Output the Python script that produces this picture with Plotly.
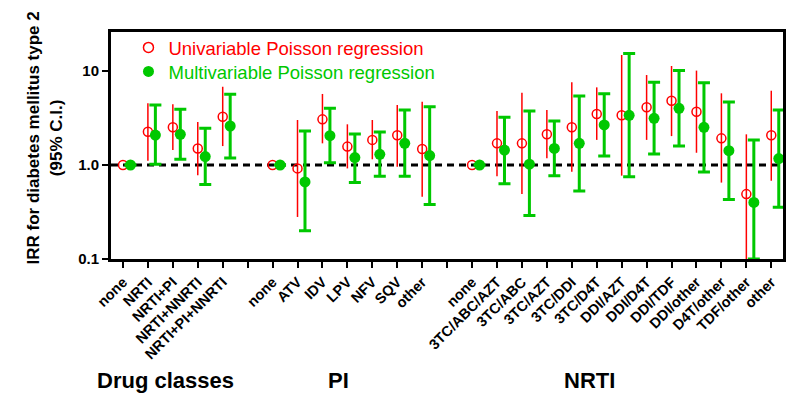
import plotly.graph_objects as go

# ---- data ----
categories = ["none", "NRTI", "NRTI+PI", "NRTI+NNRTI", "NRTI+PI+NNRTI", "",
              "none", "ATV", "IDV", "LPV", "NFV", "SQV", "other", "",
              "none", "3TC/ABC/AZT", "3TC/ABC", "3TC/AZT", "3TC/DDI", "3TC/D4T",
              "DDI/AZT", "DDI/D4T", "DDI/TDF", "DDI/other", "D4T/other", "TDF/other", "other"]

uni_irr = [1.0, 2.26, 2.52, 1.50, 3.26, None,
           1.0, 0.92, 3.06, 1.57, 1.85, 2.07, 1.48, None,
           1.0, 1.70, 1.70, 2.12, 2.52, 3.49, 3.38, 4.11, 4.83, 3.69, 1.92, 0.49, 2.07]
uni_lo = [1.0, 1.11, 1.44, 0.78, 1.59, None,
          1.0, 0.28, 1.70, 0.92, 1.15, 0.96, 0.46, None,
          1.0, 0.76, 0.49, 1.18, 0.85, 1.85, 0.77, 1.85, 2.03, 1.35, 0.65, 0.10, 0.68]
uni_hi = [1.0, 4.53, 4.42, 2.87, 6.80, None,
          1.0, 3.01, 5.70, 2.71, 3.01, 4.35, 4.72, None,
          1.0, 3.75, 5.88, 3.85, 7.60, 6.70, 14.8, 9.06, 11.3, 10.1, 5.79, 2.12, 6.17]

multi_irr = [1.0, 2.08, 2.12, 1.23, 2.60, None,
             1.0, 0.66, 2.05, 1.20, 1.30, 1.70, 1.26, None,
             1.0, 1.44, 1.02, 1.50, 1.70, 2.67, 3.38, 3.14, 4.01, 2.52, 1.42, 0.40, 1.17]
multi_lo = [1.0, 1.02, 1.15, 0.62, 1.19, None,
            1.0, 0.20, 1.06, 0.65, 0.76, 0.76, 0.38, None,
            1.0, 0.63, 0.29, 0.77, 0.53, 1.25, 0.75, 1.31, 1.59, 0.84, 0.43, 0.10, 0.355]
multi_hi = [1.0, 4.35, 3.91, 2.46, 5.65, None,
            1.0, 2.30, 4.01, 2.14, 2.24, 3.85, 4.17, None,
            1.0, 3.22, 3.75, 2.94, 5.42, 5.74, 15.4, 7.59, 10.1, 7.50, 4.68, 1.85, 3.85]

groups = ["Drug classes", "PI", "NRTI"]
group_centers = [1.7, 8.65, 18.7]

y_ticks = [0.1, 1, 10]
y_ticklabels = ["0.1", "1.0", "10"]

RED = "#FF0000"
GREEN = "#00C800"
FONT = "Liberation Sans, Arial, sans-serif"

xs = list(range(len(categories)))
x_uni = [x for x, v in zip(xs, uni_irr) if v is not None]
y_uni = [v for v in uni_irr if v is not None]
up_uni = [h - v for v, h in zip(uni_irr, uni_hi) if v is not None]
dn_uni = [v - l for v, l in zip(uni_irr, uni_lo) if v is not None]

offset = 0.3
x_mul = [x + offset for x, v in zip(xs, multi_irr) if v is not None]
y_mul = [v for v in multi_irr if v is not None]
up_mul = [h - v for v, h in zip(multi_irr, multi_hi) if v is not None]
dn_mul = [v - l for v, l in zip(multi_irr, multi_lo) if v is not None]

fig = go.Figure()
fig.add_trace(go.Scatter(
    x=x_uni, y=y_uni, mode="markers", showlegend=False,
    marker=dict(symbol="circle-open", size=9, color=RED, line=dict(width=1.5, color=RED)),
    error_y=dict(type="data", symmetric=False, array=up_uni, arrayminus=dn_uni,
                 color=RED, thickness=1.5, width=0),
))
fig.add_trace(go.Scatter(
    x=x_mul, y=y_mul, mode="markers", showlegend=False,
    marker=dict(symbol="circle", size=11, color=GREEN),
    error_y=dict(type="data", symmetric=False, array=up_mul, arrayminus=dn_mul,
                 color=GREEN, thickness=3, width=6),
))
# legend entries
fig.add_trace(go.Scatter(
    x=[None], y=[None], mode="markers", name="Univariable Poisson regression",
    marker=dict(symbol="circle-open", size=10, color=RED, line=dict(width=1.5, color=RED)),
    legend="legend",
))
fig.add_trace(go.Scatter(
    x=[None], y=[None], mode="markers", name="Multivariable Poisson regression",
    marker=dict(symbol="circle", size=11, color=GREEN),
    legend="legend2",
))

fig.add_shape(type="line", xref="paper", yref="y", x0=0, x1=1, y0=1, y1=1,
              line=dict(color="black", width=3, dash="7px,5px"), layer="below")

for g, c in zip(groups, group_centers):
    fig.add_annotation(x=c, xref="x", y=-0.537, yref="paper", text="<b>%s</b>" % g,
                       xanchor="center", yanchor="middle",
                       showarrow=False, font=dict(size=22, color="black", family=FONT))

fig.add_annotation(x=-0.099, xref="paper", y=0.533, yref="paper", textangle=-90,
                   xanchor="center", yanchor="middle",
                   text="<b>IRR for diabetes mellitus type 2<br>(95% C.I.)</b>",
                   showarrow=False, font=dict(size=17, color="black", family=FONT))

fig.update_layout(
    width=788, height=385,
    margin=dict(l=103, r=10, t=24, b=134),
    paper_bgcolor="white", plot_bgcolor="white",
    font=dict(family=FONT, color="black"),
    legend=dict(x=0.026, y=0.93, xanchor="left", yanchor="middle",
                font=dict(size=18.5, color=RED, family=FONT), bgcolor="rgba(0,0,0,0)"),
    legend2=dict(x=0.026, y=0.824, xanchor="left", yanchor="middle",
                 font=dict(size=18.5, color=GREEN, family=FONT), bgcolor="rgba(0,0,0,0)"),
    xaxis=dict(range=[-0.48, 26.47], tickmode="array", tickvals=xs,
               ticktext=["<b>%s</b>" % c if c else "" for c in categories],
               tickangle=-45, tickfont=dict(size=14.5, family=FONT),
               ticks="outside", ticklen=6, tickwidth=2, tickcolor="black",
               showline=True, linecolor="black", linewidth=3, mirror=True,
               showgrid=False, zeroline=False),
    yaxis=dict(type="log", range=[-1, 1.415], tickmode="array", tickvals=y_ticks,
               ticktext=["<b>%s</b>" % t for t in y_ticklabels],
               tickfont=dict(size=15, family=FONT),
               ticks="outside", ticklen=6, tickwidth=2, tickcolor="black",
               showline=True, linecolor="black", linewidth=3, mirror=True,
               showgrid=False, zeroline=False),
)

fig.write_html("out.html")
